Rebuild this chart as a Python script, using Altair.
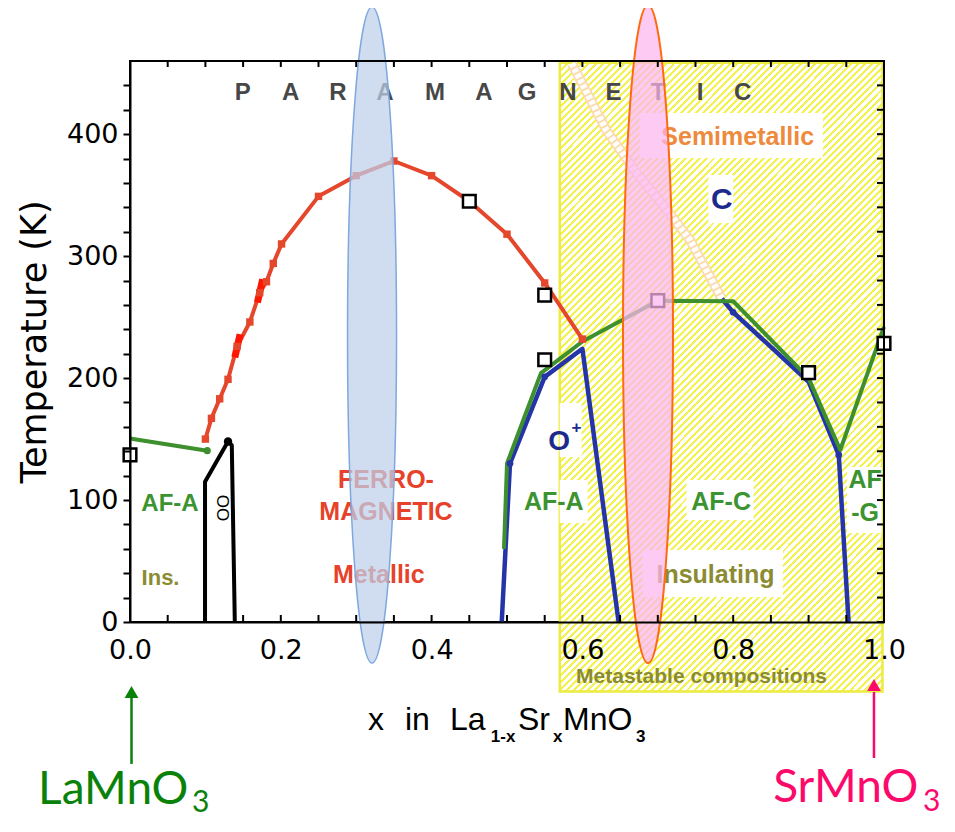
import altair as alt
import pandas as pd

# ---------------- data ----------------
# Ferromagnetic Curie temperature (red)
red_x = [0.100, 0.108, 0.119, 0.130, 0.142, 0.159, 0.172, 0.181, 0.190, 0.201,
         0.25, 0.30, 0.35, 0.40, 0.45, 0.50, 0.55, 0.60]
red_T = [150, 167, 183, 199, 226, 246, 270, 279, 294, 310,
         349, 366, 378, 366, 345, 318, 278, 232]
# bright red highlighted segments on the Tc line
red_hi_x = [0.139, 0.146, 0.169, 0.176]
red_hi_T = [217, 236, 262, 281]
red_hi_seg = ["a", "a", "b", "b"]

# AF-A boundary at low x (green)
green_left_x = [0.0, 0.1025]
green_left_T = [150.5, 140.5]

# Neel temperature at high x (green)
green_right_x = [0.496, 0.500, 0.545, 0.600, 0.700, 0.800, 0.900, 0.942, 1.000]
green_right_T = [60, 130, 204, 230, 263.5, 263, 200, 141, 242]

# structural boundaries (blue)
blue1_x = [0.493, 0.504, 0.550, 0.600, 0.648]
blue1_T = [0, 130, 201, 224, 0]
blue2_x = [0.785, 0.800, 0.900, 0.940, 0.953]
blue2_T = [265, 254, 197, 137, 0]
blue_dot_x = [0.504, 0.550, 0.800, 0.940]
blue_dot_T = [130, 201, 254, 137]

# orbital-order region (black)
black_x = [0.0995, 0.0995, 0.130, 0.135, 0.139]
black_T = [0, 115, 148, 145, 0]

# open squares
open_sq_x = [0.0, 0.45, 0.55, 0.55, 0.70, 0.90, 1.00]
open_sq_T = [137, 345, 268, 215, 263.5, 204.5, 228.5]

# dotted paramagnetic semimetal boundary
dotted_x = [0.586, 0.632, 0.672, 0.712, 0.743, 0.785]
dotted_T = [458, 403, 368, 338, 313, 265]

# metastable (hatched) region
hatch_x = [0.57, 0.998]
hatch_T = [-57, 458.5]

# white label boxes inside hatched area: x0, x1, T0, T1
box_x0 = [0.676, 0.767, 0.738, 0.680, 0.570, 0.570, 0.951]
box_x1 = [0.919, 0.800, 0.827, 0.866, 0.599, 0.607, 0.997]
box_T0 = [380.5, 327.2, 83.6, 20.5, 135.3, 81.2, 73]
box_T1 = [417.3, 366.5, 116.4, 59, 179.6, 116.4, 127]

# highlight ellipses
ell_x = [0.321, 0.687]
ell_T = [235.3, 236.1]

# tick values
x_labels = [0.0, 0.2, 0.4, 0.6, 0.8, 1.0]
x_minor = [0.05, 0.10, 0.15, 0.20, 0.25, 0.30, 0.35, 0.40, 0.45, 0.50,
           0.55, 0.60, 0.65, 0.70, 0.75, 0.80, 0.85, 0.90, 0.95]
y_minor = [0, 20, 40, 60, 80, 100, 120, 140, 160, 180, 200, 220, 240,
           260, 280, 300, 320, 340, 360, 380, 400, 420, 440]

# PARAMAGNETIC letters
para_letters = list("PARAMAGNETIC")
para_x = [0.1495, 0.2131, 0.2759, 0.3382, 0.4045, 0.4695, 0.5265, 0.5809,
          0.6412, 0.7003, 0.7560, 0.8126]
para_T = 433.7

GREEN_TXT = "#3b9430"
OLIVE = "#8b8b32"
RED_TXT = "#e8412a"
BLUE_TXT = "#1c2a8c"
ORANGE_TXT = "#ee8a3c"

# region labels
lab_text = ["AF-A", "Ins.", "FERRO-", "MAGNETIC", "Metallic", "AF-A", "O", "+",
            "AF-C", "AF", "-G", "Insulating", "Semimetallic", "C",
            "Metastable compositions"]
lab_x = [0.053, 0.0405, 0.3395, 0.3395, 0.330, 0.562, 0.569, 0.592,
         0.784, 0.975, 0.975, 0.7765, 0.806, 0.785, 0.758]
lab_T = [96.8, 36.1, 116.4, 90.4, 38.5, 98.6, 147.8, 159,
         98.6, 116.4, 89.1, 38.5, 397.4, 346, -44.9]
lab_color = [GREEN_TXT, OLIVE, RED_TXT, RED_TXT, RED_TXT, GREEN_TXT, BLUE_TXT, BLUE_TXT,
             GREEN_TXT, GREEN_TXT, GREEN_TXT, OLIVE, ORANGE_TXT, BLUE_TXT, OLIVE]
lab_size = [24, 22, 25, 25, 25, 25, 28, 17, 25, 25, 25, 25, 25, 30, 21]

# x-axis title pieces
xt_main = ["x", "in", "La", "Sr", "MnO"]
xt_main_x = [0.3157, 0.3647, 0.4244, 0.5146, 0.5743]
xt_sub = ["1-x", "x", "3"]
xt_sub_x = [0.4785, 0.5610, 0.6710]

# compound labels under the axis
comp_main = ["LaMnO", "SrMnO"]
comp_main_x = [-0.122, 0.853]
comp_main_T = [-149.2, -147.6]
comp_sub_x = [0.0822, 1.0517]
comp_sub_T = [-155.8, -155.0]
comp_color = ["#0a820a", "#fb0a6b"]

arrow_x = [0.002, 0.9867]
arrow_T0 = [-116.4, -111.5]
arrow_T1 = [-62.3, -57.4]
arrow_head_T = [-57.4, -51.7]

# ---------------- helpers ----------------
XS = alt.Scale(domain=[0, 1.0], nice=False, zero=False)
YS = alt.Scale(domain=[0, 460], nice=False, zero=False)

X_AXIS = alt.Axis(values=x_labels, format=".1f", title=None, ticks=False,
                  labelFontSize=27, labelFont="DejaVu Sans", labelColor="black",
                  labelPadding=15, domainColor="black", domainWidth=2, grid=False,
                  zindex=1, labelFlush=False, labelOverlap=False)
Y_AXIS = alt.Axis(values=y_minor,
                  labelExpr="datum.value % 100 === 0 ? datum.label : ''",
                  title="Temperature (K)", titleFont="DejaVu Sans", titleFontSize=35,
                  titleFontWeight="normal", titleColor="black", titlePadding=14,
                  tickSize=7, tickWidth=2, tickColor="black",
                  labelFontSize=27, labelFont="DejaVu Sans", labelColor="black",
                  labelPadding=5, domainColor="black", domainWidth=2, grid=False,
                  zindex=1, labelFlush=False, labelOverlap=False)


def X(f="x"):
    return alt.X(f"{f}:Q", scale=XS, axis=X_AXIS)


def Y(f="T"):
    return alt.Y(f"{f}:Q", scale=YS, axis=Y_AXIS)


def df(**cols):
    return pd.DataFrame(cols)


def line(xs, Ts, color, width, **kw):
    d = df(x=xs, T=Ts, i=list(range(len(xs))))
    return alt.Chart(d).mark_line(color=color, strokeWidth=width, **kw).encode(
        x=X(), y=Y(), order="i:Q")


# ---------------- hatch fill (style) ----------------
HATCH = "#f4f250"
N = 134
stops = []
for i in range(N):
    a = round(i / N, 6)
    b = round((i + 0.42) / N, 6)
    c = round((i + 1) / N, 6)
    stops += [alt.GradientStop(offset=a, color=HATCH),
              alt.GradientStop(offset=b, color=HATCH),
              alt.GradientStop(offset=b, color="#ffffff"),
              alt.GradientStop(offset=c, color="#ffffff")]
hatch_fill = alt.LinearGradient(gradient="linear", stops=stops,
                                x1=0, y1=0, x2=0.617, y2=1.198)

hatch = alt.Chart(df(x0=[hatch_x[0]], x1=[hatch_x[1]], T0=[hatch_T[0]], T1=[hatch_T[1]])).mark_rect(
    fill=hatch_fill, stroke="#ecec40", strokeWidth=2.5).encode(
    x=X("x0"), x2="x1", y=Y("T0"), y2="T1")

boxes = alt.Chart(df(x0=box_x0, x1=box_x1, T0=box_T0, T1=box_T1)).mark_rect(
    fill="white").encode(x=X("x0"), x2="x1", y=Y("T0"), y2="T1")

dotted_base = line(dotted_x, dotted_T, "#fbd9ad", 10, opacity=0.95)
dotted_top = line(dotted_x, dotted_T, "#ffffff", 6.5, strokeDash=[4, 2])

black_line = line(black_x, black_T, "black", 4, strokeJoin="round")
green_left = line(green_left_x, green_left_T, "#3e8f2d", 4)
blue1 = line(blue1_x, blue1_T, "#2535a8", 4.5, strokeJoin="round")
blue2 = line(blue2_x, blue2_T, "#2535a8", 4.5, strokeJoin="round")
green_right = line(green_right_x, green_right_T, "#3e8f2d", 4, strokeJoin="round")
red_line = line(red_x, red_T, "#e4472c", 4, strokeJoin="round")

red_hi = alt.Chart(df(x=red_hi_x, T=red_hi_T, s=red_hi_seg)).mark_line(
    color="#ff1500", strokeWidth=7).encode(x=X(), y=Y(), detail="s:N")

red_pts = alt.Chart(df(x=red_x, T=red_T)).mark_point(
    shape="square", filled=True, size=55, color="#e4472c", opacity=1).encode(x=X(), y=Y())
green_dot = alt.Chart(df(x=[green_left_x[1]], T=[green_left_T[1]])).mark_point(
    shape="circle", filled=True, size=50, color="#3e8f2d", opacity=1).encode(x=X(), y=Y())
black_dot = alt.Chart(df(x=[black_x[2]], T=[black_T[2]])).mark_point(
    shape="circle", filled=True, size=70, color="black", opacity=1).encode(x=X(), y=Y())
blue_dots = alt.Chart(df(x=blue_dot_x, T=blue_dot_T)).mark_point(
    shape="circle", filled=True, size=45, color="#2535a8", opacity=1).encode(x=X(), y=Y())
open_sq = alt.Chart(df(x=open_sq_x, T=open_sq_T)).mark_point(
    shape="square", filled=False, size=160, fill="white", fillOpacity=1,
    stroke="black", strokeWidth=2.5, opacity=1).encode(x=X(), y=Y())

# labels
para = alt.Chart(df(x=para_x, T=[para_T] * len(para_x), t=para_letters)).mark_text(
    font="Liberation Sans", fontWeight="bold", fontSize=24, color="#474747",
    align="center", baseline="middle").encode(x=X(), y=Y(), text="t:N")

labels = alt.Chart(df(x=lab_x, T=lab_T, t=lab_text, c=lab_color, s=lab_size)).mark_text(
    font="Liberation Sans", fontWeight="bold", align="center", baseline="middle").encode(
    x=X(), y=Y(), text="t:N", color=alt.Color("c:N", scale=None),
    size=alt.Size("s:Q", scale=None))

oo = alt.Chart(df(x=[0.1216], T=[93.5], t=["OO"])).mark_text(
    font="Liberation Sans", fontSize=17, angle=90, color="black",
    align="center", baseline="middle").encode(x=X(), y=Y(), text="t:N")

# ellipse highlights (custom symbol path)
def ellipse_path(rx, ry=1.0, k=0.5523):
    f = lambda v: f"{v:.4f}"
    return (f"M 0 {f(-ry)} C {f(k*rx)} {f(-ry)} {f(rx)} {f(-k*ry)} {f(rx)} 0 "
            f"C {f(rx)} {f(k*ry)} {f(k*rx)} {f(ry)} 0 {f(ry)} "
            f"C {f(-k*rx)} {f(ry)} {f(-rx)} {f(k*ry)} {f(-rx)} 0 "
            f"C {f(-rx)} {f(-k*ry)} {f(-k*rx)} {f(-ry)} 0 {f(-ry)} Z")

ell_blue = alt.Chart(df(x=[ell_x[0]], T=[ell_T[0]])).mark_point(
    shape=ellipse_path(0.0747), size=656 ** 2, filled=True, fill="#bed0ea",
    fillOpacity=0.72, stroke="#7ea8de", strokeWidth=1.5, opacity=1).encode(x=X(), y=Y())
ell_pink = alt.Chart(df(x=[ell_x[1]], T=[ell_T[1]])).mark_point(
    shape=ellipse_path(0.076), size=658 ** 2, filled=True, fill="#fbb6ee",
    fillOpacity=0.72, stroke="#ff6a10", strokeWidth=2, opacity=1).encode(x=X(), y=Y())

# inward minor ticks (bottom / top / right) and frame on top
ticks_bottom = alt.Chart(df(x=x_minor, T=[0] * len(x_minor))).mark_tick(
    orient="vertical", size=7, thickness=2, color="black", yOffset=-3.5, opacity=1).encode(x=X(), y=Y())
ticks_top = alt.Chart(df(x=x_minor, T=[460] * len(x_minor))).mark_tick(
    orient="vertical", size=6, thickness=2, color="black", yOffset=3, opacity=1).encode(x=X(), y=Y())
ticks_right = alt.Chart(df(x=[1.0] * len(y_minor), T=y_minor)).mark_tick(
    orient="horizontal", size=7, thickness=2, color="black", xOffset=-3.5, opacity=1).encode(x=X(), y=Y())
frame_right = alt.Chart(df(x=[1.0], T0=[0], T1=[460])).mark_rule(
    color="black", strokeWidth=2).encode(x=X(), y=Y("T0"), y2="T1")
frame_top = alt.Chart(df(x0=[0.0], x1=[1.0], T=[460])).mark_rule(
    color="black", strokeWidth=2).encode(x=X("x0"), x2="x1", y=Y())

# x-axis title
xt1 = alt.Chart(df(x=xt_main_x, T=[-88.6] * len(xt_main_x), t=xt_main)).mark_text(
    font="Liberation Sans", fontSize=32, color="black", align="left",
    baseline="alphabetic").encode(x=X(), y=Y(), text="t:N")
xt2 = alt.Chart(df(x=xt_sub_x, T=[-98.4] * len(xt_sub_x), t=xt_sub)).mark_text(
    font="Liberation Sans", fontSize=17, fontWeight="bold", color="black", align="left",
    baseline="alphabetic").encode(x=X(), y=Y(), text="t:N")

# compound labels & arrows
comp1 = alt.Chart(df(x=comp_main_x, T=comp_main_T, t=comp_main, c=comp_color)).mark_text(
    font="Lato", fontSize=46, align="left", baseline="alphabetic").encode(
    x=X(), y=Y(), text="t:N", color=alt.Color("c:N", scale=None))
comp2 = alt.Chart(df(x=comp_sub_x, T=comp_sub_T, t=["3", "3"], c=comp_color)).mark_text(
    font="Lato", fontSize=30, align="left", baseline="alphabetic").encode(
    x=X(), y=Y(), text="t:N", color=alt.Color("c:N", scale=None))
arrows = alt.Chart(df(x=arrow_x, T0=arrow_T0, T1=arrow_T1, c=comp_color)).mark_rule(
    strokeWidth=2.5).encode(x=X(), y=Y("T0"), y2="T1", color=alt.Color("c:N", scale=None))
heads = alt.Chart(df(x=arrow_x, T=arrow_head_T, c=comp_color)).mark_point(
    shape="triangle-up", filled=True, size=190, opacity=1).encode(
    x=X(), y=Y(), color=alt.Color("c:N", scale=None))

chart = alt.layer(
    hatch, boxes, dotted_base, dotted_top,
    black_line, green_left, blue1, blue2, green_right, red_line, red_hi,
    red_pts, green_dot, black_dot, blue_dots, open_sq,
    para, labels, oo,
    ell_blue, ell_pink,
    ticks_bottom, ticks_top, ticks_right, frame_right, frame_top,
    xt1, xt2, comp1, comp2, arrows, heads,
).properties(
    width=754, height=561,
    padding={"left": 122, "top": 53, "right": 60, "bottom": 195},
    autosize=alt.AutoSizeParams(type="none"),
    background="white",
).configure_view(stroke="black", strokeWidth=2)

chart.save("out.html", embed_options={"renderer": "svg", "actions": False})
